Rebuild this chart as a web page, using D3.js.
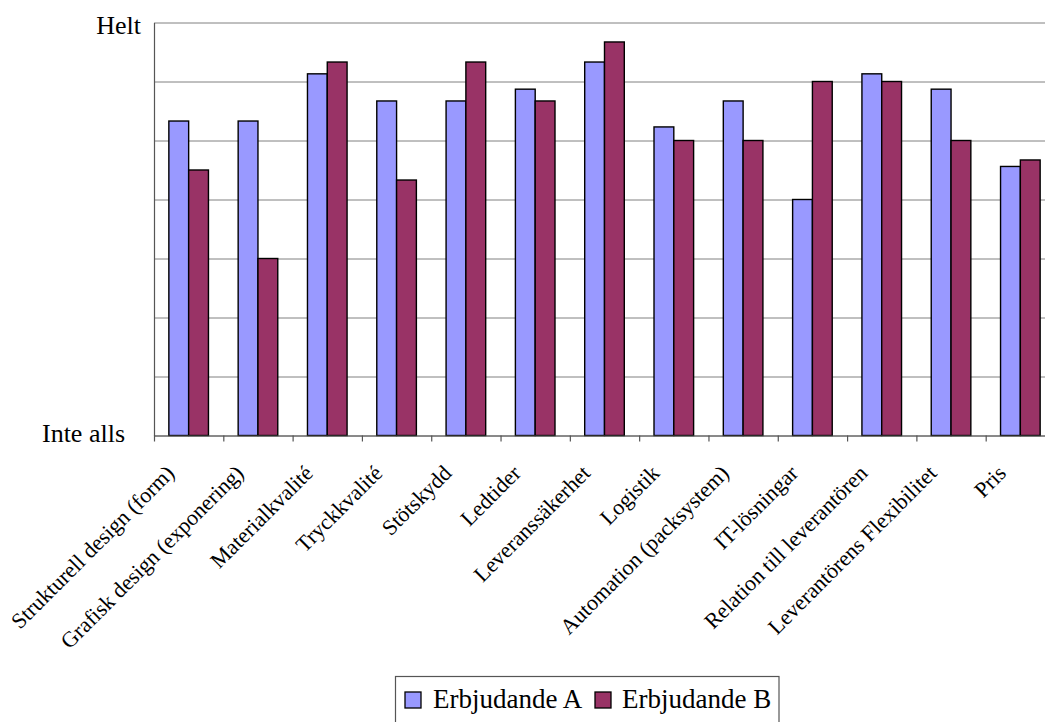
<!DOCTYPE html>
<html>
<head>
<meta charset="utf-8">
<script src="https://cdn.jsdelivr.net/npm/d3@7"></script>
<style>
  html, body { margin: 0; padding: 0; background: #fff; }
  svg { display: block; font-family: "Liberation Serif", "Times New Roman", serif; }
</style>
</head>
<body>
<svg id="chart" width="1045" height="722"></svg>
<script>
// Categories (rated aspects)
const categories = [
  "Strukturell design (form)",
  "Grafisk design (exponering)",
  "Materialkvalité",
  "Tryckkvalité",
  "Stötskydd",
  "Ledtider",
  "Leveranssäkerhet",
  "Logistik",
  "Automation (packsystem)",
  "IT-lösningar",
  "Relation till leverantören",
  "Leverantörens Flexibilitet",
  "Pris"
];

// Series names
const seriesNames = ["Erbjudande A", "Erbjudande B"];

// Average ratings (0 = Inte alls, 7 = Helt)
const valuesA = [5.33, 5.33, 6.13, 5.67, 5.67, 5.87, 6.33, 5.23, 5.67, 4.0, 6.13, 5.87, 4.56];
const valuesB = [4.5, 3.0, 6.33, 4.33, 6.33, 5.67, 6.67, 5.0, 5.0, 6.0, 6.0, 5.0, 4.67];

// Scale end labels
const scaleLabels = ["Inte alls", "Helt"];

const seriesColors = ["#9999FF", "#993366"];

const svg = d3.select("#chart");

const plot = { left: 154, right: 1055, top: 22.5, bottom: 435.5 };

const x0 = d3.scaleBand()
  .domain(categories)
  .range([plot.left, plot.right])
  .paddingInner(0)
  .paddingOuter(0);

const x1 = d3.scaleBand()
  .domain(seriesNames)
  .range([0, x0.bandwidth()])
  .paddingInner(0)
  .paddingOuter(0.75);

const y = d3.scaleLinear()
  .domain([0, 7])
  .range([plot.bottom, plot.top]);

// Horizontal gridlines
const grid = svg.append("g")
  .attr("transform", `translate(${plot.left},0)`)
  .call(d3.axisLeft(y).tickValues(d3.range(0, 8)).tickSize(-(plot.right - plot.left)).tickFormat(""));
grid.select(".domain").remove();
grid.selectAll(".tick line").attr("stroke", "#808080").attr("stroke-width", 1);

// Bars
const rows = categories.map((c, i) => ({ category: c, values: [valuesA[i], valuesB[i]] }));

const groups = svg.append("g")
  .selectAll("g")
  .data(rows)
  .join("g")
  .attr("transform", d => `translate(${x0(d.category)},0)`);

groups.selectAll("rect")
  .data(d => d.values.map((v, k) => ({ key: seriesNames[k], value: v, k })))
  .join("rect")
  .attr("x", d => x1(d.key))
  .attr("y", d => y(d.value))
  .attr("width", x1.bandwidth())
  .attr("height", d => y(0) - y(d.value))
  .attr("fill", d => seriesColors[d.k])
  .attr("stroke", "#000")
  .attr("stroke-width", 1.4);

// Left axis line
const yAxis = svg.append("g")
  .attr("transform", `translate(${plot.left},0)`)
  .call(d3.axisLeft(y).tickValues([]).tickSizeOuter(0));
yAxis.select(".domain").attr("stroke", "#555").attr("stroke-width", 1.2);

// Bottom axis with ticks at category boundaries
const xBound = d3.scaleLinear().domain([0, categories.length]).range([plot.left, plot.right]);
const xAxis = svg.append("g")
  .attr("transform", `translate(0,${plot.bottom})`)
  .call(d3.axisBottom(xBound).tickValues(d3.range(0, categories.length + 1)).tickSize(6).tickSizeOuter(0).tickFormat(""));
xAxis.select(".domain").attr("stroke", "#555").attr("stroke-width", 1.2);
xAxis.selectAll(".tick line").attr("stroke", "#555").attr("stroke-width", 1.2);

// Scale end labels
svg.append("text")
  .attr("x", 141)
  .attr("y", y(7) + 11)
  .attr("text-anchor", "end")
  .attr("font-size", 26)
  .attr("fill", "#000")
  .text(scaleLabels[1]);

svg.append("text")
  .attr("x", 125)
  .attr("y", y(0) + 6.5)
  .attr("text-anchor", "end")
  .attr("font-size", 26)
  .attr("fill", "#000")
  .text(scaleLabels[0]);

// Rotated category labels
svg.append("g")
  .selectAll("text")
  .data(categories)
  .join("text")
  .attr("transform", d => `translate(${x0(d) + x0.bandwidth() / 2 - 13},${plot.bottom + 39}) rotate(-45)`)
  .attr("text-anchor", "end")
  .attr("font-size", 22)
  .attr("fill", "#000")
  .text(d => d);

// Legend
const legend = svg.append("g");
legend.append("rect")
  .attr("x", 395.5)
  .attr("y", 676.5)
  .attr("width", 383.5)
  .attr("height", 60)
  .attr("fill", "#fff")
  .attr("stroke", "#555")
  .attr("stroke-width", 1.2);

const legendItems = [
  { name: seriesNames[0], color: seriesColors[0], sx: 405, tx: 433 },
  { name: seriesNames[1], color: seriesColors[1], sx: 595, tx: 622 }
];

legendItems.forEach(it => {
  legend.append("rect")
    .attr("x", it.sx)
    .attr("y", 692)
    .attr("width", 16)
    .attr("height", 16)
    .attr("fill", it.color)
    .attr("stroke", "#000")
    .attr("stroke-width", 1.3);
  legend.append("text")
    .attr("x", it.tx)
    .attr("y", 708)
    .attr("font-size", 27)
    .attr("fill", "#000")
    .text(it.name);
});
</script>
</body>
</html>
